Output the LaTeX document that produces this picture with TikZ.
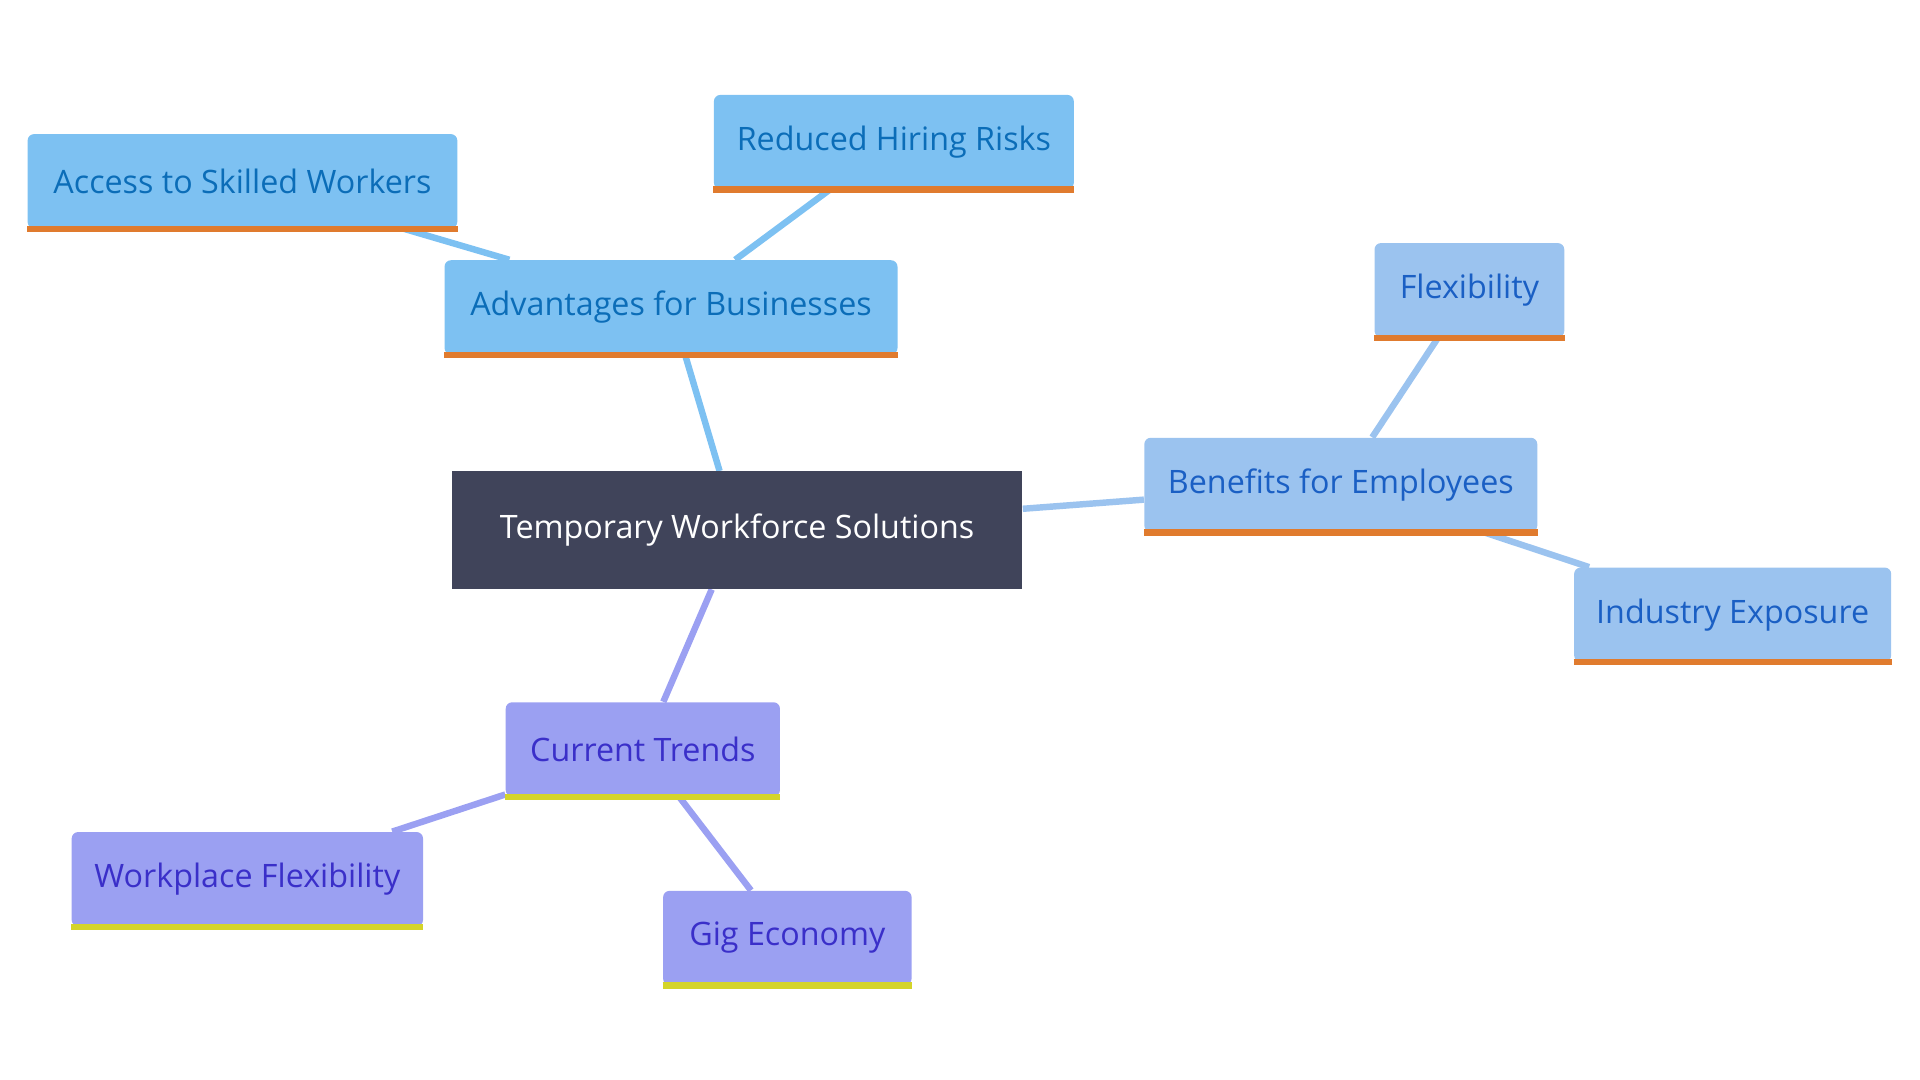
\documentclass[tikz,border=0pt]{standalone}
\usepackage{fontspec}
\setmainfont{Open Sans}
\usetikzlibrary{backgrounds}
\definecolor{cdark}{HTML}{40445A}
\definecolor{cblue}{HTML}{7DC1F2}
\definecolor{tblue}{HTML}{0B6DB8}
\definecolor{clight}{HTML}{9BC3EF}
\definecolor{tlight}{HTML}{1A5FC4}
\definecolor{cviol}{HTML}{9BA0F2}
\definecolor{tviol}{HTML}{3A2FC9}
\definecolor{orng}{HTML}{E07B2E}
\definecolor{yell}{HTML}{D4D42A}
\begin{document}
\begin{tikzpicture}[x=0.02cm,y=-0.02cm,
  box/.style={inner sep=0pt,font=\fontsize{15}{18}\selectfont,rounded corners=3pt},
  edge/.style={line width=3pt}]
\useasboundingbox (0,0) rectangle (1568,882);
\node[box,fill=cdark,text=white,rounded corners=0pt,minimum width=9.32cm,minimum height=1.92cm] (c) at (602,433) {Temporary Workforce Solutions};
\node[box,fill=cblue,text=tblue,minimum width=7.4cm,minimum height=1.54cm] (adv) at (548,251) {Advantages for Businesses};
\node[box,fill=cblue,text=tblue,minimum width=7.02cm,minimum height=1.54cm] (acc) at (198,148) {Access to Skilled Workers};
\node[box,fill=cblue,text=tblue,minimum width=5.88cm,minimum height=1.54cm] (red) at (730,116) {Reduced Hiring Risks};
\node[box,fill=clight,text=tlight,minimum width=6.42cm,minimum height=1.54cm] (ben) at (1095,396) {Benefits for Employees};
\node[box,fill=clight,text=tlight,minimum width=3.1cm,minimum height=1.54cm] (flx) at (1200,237) {Flexibility};
\node[box,fill=clight,text=tlight,minimum width=5.18cm,minimum height=1.54cm] (ind) at (1415,502) {Industry Exposure};
\node[box,fill=cviol,text=tviol,minimum width=4.48cm,minimum height=1.54cm] (cur) at (525,612) {Current Trends};
\node[box,fill=cviol,text=tviol,minimum width=5.74cm,minimum height=1.54cm] (wpf) at (202,718) {Workplace Flexibility};
\node[box,fill=cviol,text=tviol,minimum width=4.06cm,minimum height=1.54cm] (gig) at (643,766) {Gig Economy};
\foreach \n in {adv,acc,red,ben,flx,ind} \draw[orng,line width=3pt] (\n.south west)--(\n.south east);
\foreach \n in {cur,wpf,gig} \draw[yell,line width=3pt] (\n.south west)--(\n.south east);
\begin{scope}[on background layer]
\draw[edge,cblue] (c)--(adv) (adv)--(acc) (adv)--(red);
\draw[edge,clight] (c)--(ben) (ben)--(flx) (ben)--(ind);
\draw[edge,cviol] (c)--(cur) (cur)--(wpf) (cur)--(gig);
\end{scope}
\end{tikzpicture}
\end{document}
